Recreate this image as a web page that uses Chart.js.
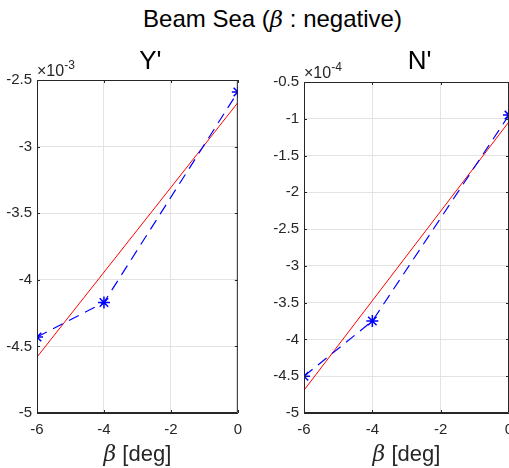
<!DOCTYPE html>
<html>
<head>
<meta charset="utf-8">
<script src="https://cdn.jsdelivr.net/npm/chart.js@4.4.1/dist/chart.umd.min.js"></script>
<style>
  body { margin: 0; width: 509px; height: 468px; overflow: hidden; background: #fff; position: relative;
         font-family: "Liberation Sans", Arial, sans-serif; }
  #title { position: absolute; top: 7px; left: 0; width: 545px; text-align: center;
           font-size: 24px; line-height: 24px; color: #000; white-space: nowrap; }
  #title i { font-family: "DejaVu Serif", serif; font-size: 23px; }
  .plot { position: absolute; top: 0; height: 468px; }
</style>
</head>
<body>
<div id="title">Beam Sea (<i>β</i> : negative)</div>
<div class="plot" style="left:0;width:250px"><canvas id="chartY"></canvas></div>
<div class="plot" style="left:250px;width:272px"><canvas id="chartN"></canvas></div>
<script>
// beta points and sampled coefficients (values in units of the axis exponent)
const betaDeg = [-6, -4, 0];
const yPrime = [-4.43, -4.17, -2.59];   // x 10^-3
const nPrime = [-4.50, -3.75, -0.95];   // x 10^-4

// straight-line fit, drawn at the two ends
const fitBeta = [-6, 0];
const yPrimeFit = [-4.58, -2.67];
const nPrimeFit = [-4.69, -1.04];

const xTicks = [-6, -4, -2, 0];
const yRangeY = [-5, -2.5];
const yRangeN = [-5, -0.5];

const AXIS = '#262626';
const FONT = '"Liberation Sans", Arial, sans-serif';

// matlab-ish axes: box, inward ticks, exponent, italic beta label, title
const matlabAxes = {
  id: 'matlabAxes',
  afterDraw(chart, args, opts) {
    const {ctx, chartArea: a, scales} = chart;
    ctx.save();
    ctx.strokeStyle = AXIS;
    ctx.lineWidth = 1;
    ctx.beginPath();
    ctx.rect(a.left + 0.5, a.top + 0.5, a.right - a.left - 1, a.bottom - a.top - 1);
    const tl = 3;
    scales.x.ticks.forEach(t => {
      const px = Math.round(scales.x.getPixelForValue(t.value)) + 0.5;
      ctx.moveTo(px, a.bottom); ctx.lineTo(px, a.bottom - tl);
      ctx.moveTo(px, a.top); ctx.lineTo(px, a.top + tl);
    });
    scales.y.ticks.forEach(t => {
      const py = Math.round(scales.y.getPixelForValue(t.value)) + 0.5;
      ctx.moveTo(a.left, py); ctx.lineTo(a.left + tl, py);
      ctx.moveTo(a.right, py); ctx.lineTo(a.right - tl, py);
    });
    ctx.stroke();

    ctx.fillStyle = AXIS;
    ctx.textBaseline = 'alphabetic';
    // exponent
    ctx.textAlign = 'left';
    ctx.font = '16px ' + FONT;
    const base = '\u00d710';
    ctx.fillText(base, a.left, a.top - 4);
    const w = ctx.measureText(base).width;
    ctx.font = '12px ' + FONT;
    ctx.fillText(opts.exp, a.left + w, a.top - 11);

    // x label: italic beta + [deg]
    ctx.font = 'italic 22px "DejaVu Serif", serif';
    const b = '\u03b2';
    const bw = ctx.measureText(b).width;
    ctx.font = '22px ' + FONT;
    const rest = ' [deg]';
    const rw = ctx.measureText(rest).width;
    const cx = (a.left + a.right) / 2;
    let x0 = cx - (bw + rw) / 2;
    ctx.font = 'italic 22px "DejaVu Serif", serif';
    ctx.fillText(b, x0, 461);
    ctx.font = '22px ' + FONT;
    ctx.fillText(rest, x0 + bw, 461);

    // subplot title
    ctx.fillStyle = '#000';
    ctx.textAlign = 'center';
    ctx.font = '26px ' + FONT;
    ctx.fillText(opts.title, cx + 13, 69);
    ctx.restore();
  }
};

function makeChart(id, pts, fit, yRange, exp, title, area, width) {
  return new Chart(document.getElementById(id), {
    type: 'scatter',
    data: {
      datasets: [
        {
          data: fitBeta.map((b, i) => ({x: b, y: fit[i]})),
          showLine: true, borderColor: '#ff0000', borderWidth: 1,
          pointRadius: 0, order: 2
        },
        {
          data: betaDeg.map((b, i) => ({x: b, y: pts[i]})),
          showLine: true, borderColor: '#0000ff', borderWidth: 1.2, borderDash: [11, 7],
          pointStyle: 'star', pointRadius: 6, pointBorderColor: '#0000ff', pointBorderWidth: 1.5,
          pointBackgroundColor: '#0000ff', order: 1
        }
      ]
    },
    options: {
      responsive: false,
      animation: false,
      devicePixelRatio: 1,
      layout: {padding: {top: area.top, right: width - area.right, left: 0, bottom: 0}},
      plugins: {
        legend: {display: false}, tooltip: {enabled: false},
        matlabAxes: {exp: exp, title: title}
      },
      scales: {
        x: {
          type: 'linear', min: xTicks[0], max: xTicks[xTicks.length - 1],
          afterBuildTicks: s => { s.ticks = xTicks.map(v => ({value: v})); },
          afterFit: s => { s.height = 55; },
          grid: {color: '#e3e3e3', drawTicks: false},
          border: {color: AXIS},
          ticks: {color: AXIS, font: {family: FONT, size: 15}, padding: 8, maxRotation: 0,
                  callback: v => String(v)}
        },
        y: {
          min: yRange[0], max: yRange[1],
          afterFit: s => { s.width = area.left; },
          grid: {color: '#e3e3e3', drawTicks: false},
          border: {color: AXIS},
          ticks: {color: AXIS, font: {family: FONT, size: 15}, padding: 5, stepSize: 0.5,
                  callback: v => String(Math.round(v * 10) / 10)}
        }
      }
    },
    plugins: [matlabAxes]
  });
}

function sizeCanvas(id, w) {
  const c = document.getElementById(id);
  c.width = w; c.height = 468;
  c.style.width = w + 'px'; c.style.height = '468px';
}

sizeCanvas('chartY', 250);
sizeCanvas('chartN', 272);
makeChart('chartY', yPrime, yPrimeFit, yRangeY, '-3', "Y'", {left: 37, top: 80, right: 240}, 250);
makeChart('chartN', nPrime, nPrimeFit, yRangeN, '-4', "N'", {left: 54, top: 82, right: 259}, 272);
</script>
</body>
</html>
